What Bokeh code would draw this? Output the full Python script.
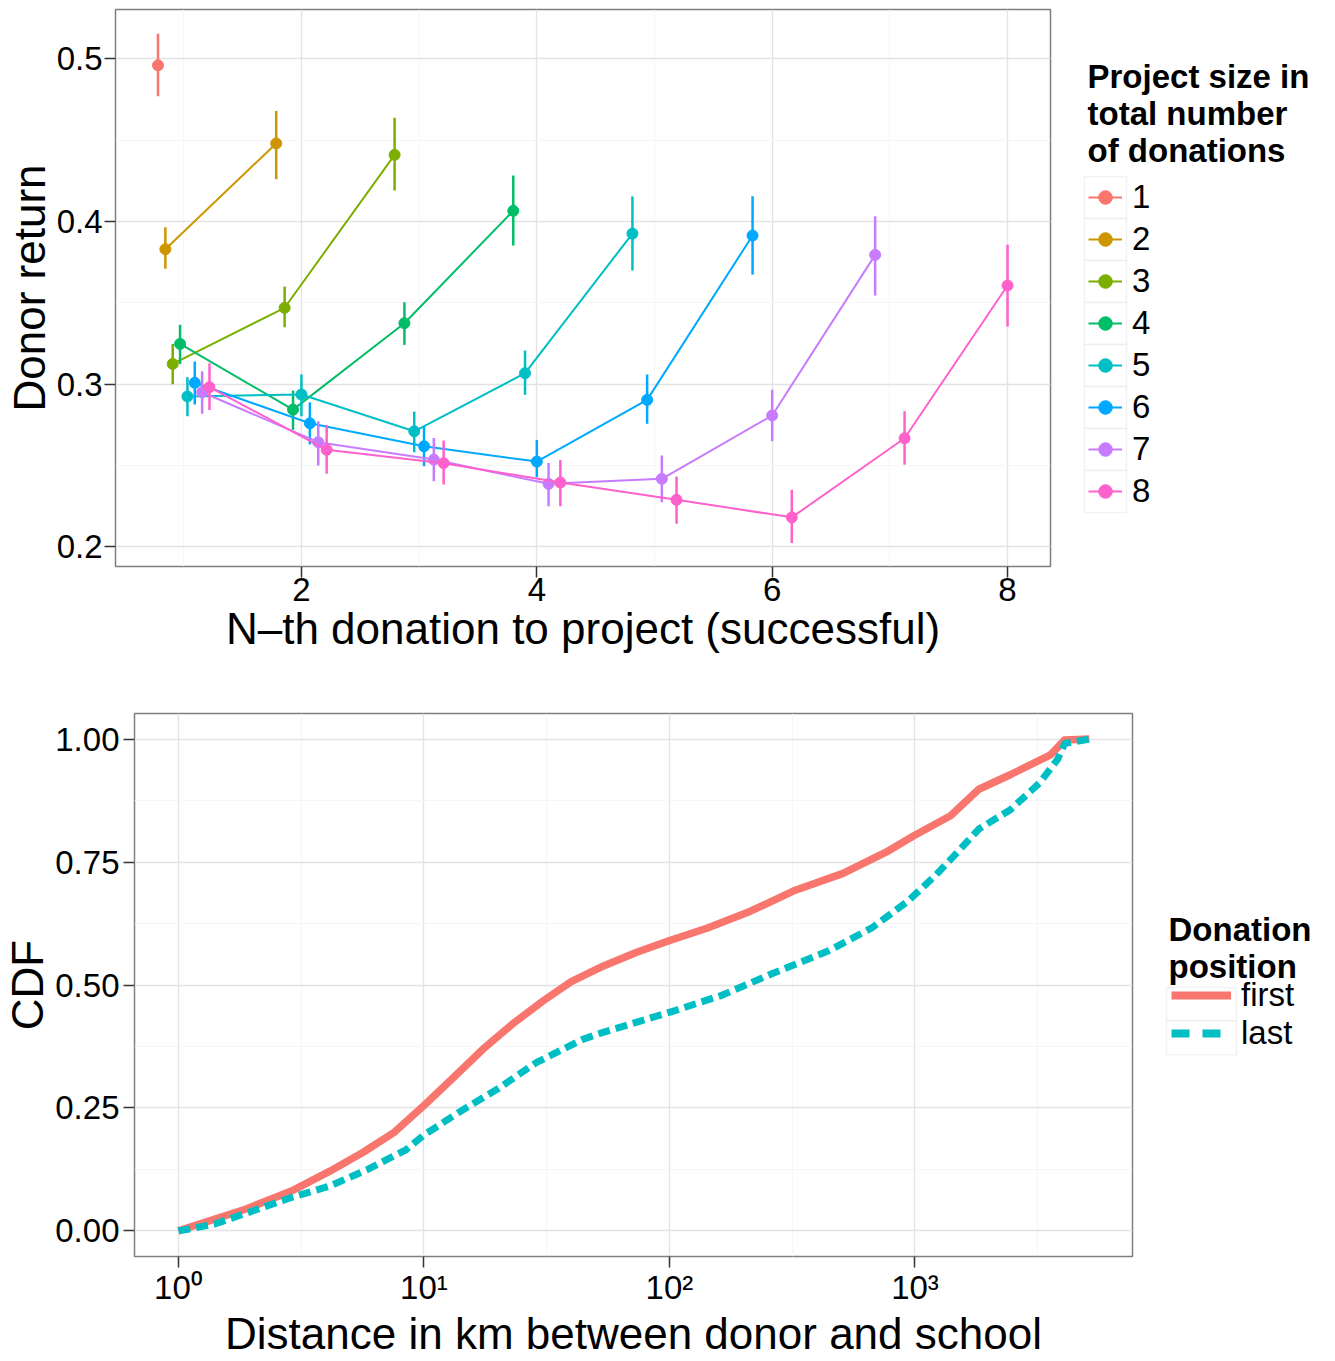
from bokeh.plotting import figure
from bokeh.models import (Range1d, FixedTicker, Legend, LegendItem, Label,
                          NumeralTickFormatter, ColumnDataSource, BoxAnnotation)
from bokeh.layouts import row
from bokeh.embed import file_html
from bokeh.resources import INLINE

FONT = "Liberation Sans"
NAN = float("nan")

# ---------------- top panel data ----------------
project_sizes = [1, 2, 3, 4, 5, 6, 7, 8]
size_colors = ["#F8766D", "#CD9600", "#7CAE00", "#00BE67",
               "#00BFC4", "#00A9FF", "#C77CFF", "#FF61CC"]

ret_1 = [0.496]
ret_2 = [0.383, 0.448]
ret_3 = [0.3125, 0.347, 0.441]
ret_4 = [0.3248, 0.2844, 0.3375, 0.4066]
ret_5 = [0.2925, 0.2937, 0.2711, 0.3068, 0.3926]
ret_6 = [0.3009, 0.2760, 0.2619, 0.2525, 0.2904, 0.3914]
ret_7 = [0.2951, 0.2644, 0.2537, 0.2388, 0.2419, 0.2808, 0.3795]
ret_8 = [0.2982, 0.2597, 0.2515, 0.2396, 0.2290, 0.2182, 0.2668, 0.3607]

lo_1 = [0.477]
lo_2 = [0.371, 0.426]
lo_3 = [0.300, 0.335, 0.419]
lo_4 = [0.3125, 0.272, 0.3242, 0.3852]
lo_5 = [0.2803, 0.2803, 0.2582, 0.2935, 0.3699]
lo_6 = [0.2875, 0.263, 0.2496, 0.2428, 0.2757, 0.3674]
lo_7 = [0.2818, 0.250, 0.2404, 0.225, 0.2275, 0.265, 0.3545]
lo_8 = [0.2842, 0.245, 0.2384, 0.225, 0.2142, 0.2025, 0.2506, 0.3355]

hi_1 = [0.5154]
hi_2 = [0.3965, 0.468]
hi_3 = [0.3248, 0.360, 0.4637]
hi_4 = [0.3365, 0.2961, 0.3504, 0.4283]
hi_5 = [0.3043, 0.306, 0.2832, 0.3207, 0.4154]
hi_6 = [0.314, 0.2889, 0.2742, 0.2658, 0.306, 0.4156]
hi_7 = [0.308, 0.2773, 0.267, 0.2517, 0.2562, 0.2966, 0.4033]
hi_8 = [0.3129, 0.275, 0.2654, 0.2535, 0.2433, 0.2351, 0.2834, 0.3857]

top_x_ticks = [2, 4, 6, 8]
top_x_minor = [1, 3, 5, 7]
top_y_ticks = [0.2, 0.3, 0.4, 0.5]
top_y_minor = [0.25, 0.35, 0.45]
top_legend_title = "Project size in\ntotal number\nof donations"

# ---------------- bottom panel data ----------------
dist_first_km = [1.0, 1.218, 1.875, 2.884, 4.121, 5.702, 7.586, 10.0, 13.0, 17.34,
                 23.12, 30.83, 39.8, 52.36, 73.11, 99.5, 142.9, 213.8, 319.2, 509.3,
                 762.1, 993.0, 1396.0, 1820.0, 2455.0, 3565.0, 4064.0, 5129.0]
cdf_first = [0.0, 0.014, 0.044, 0.081, 0.121, 0.161, 0.201, 0.255, 0.309, 0.369,
             0.422, 0.469, 0.507, 0.536, 0.566, 0.590, 0.616, 0.650, 0.691, 0.727,
             0.770, 0.804, 0.844, 0.898, 0.928, 0.968, 0.998, 1.0]
dist_last_km = [1.0, 1.406, 2.014, 2.884, 4.121, 5.902, 8.453, 10.0, 13.96, 20.0,
                28.64, 44.06, 52.36, 102.3, 163.3, 261.2, 446.7, 666.8, 933.3, 1219.0,
                1489.0, 1820.0, 2455.0, 3221.0, 3802.0, 4074.0, 5129.0]
cdf_last = [0.0, 0.014, 0.041, 0.068, 0.091, 0.125, 0.165, 0.195, 0.242, 0.289,
            0.342, 0.389, 0.402, 0.446, 0.479, 0.523, 0.570, 0.616, 0.670, 0.724,
            0.770, 0.817, 0.857, 0.911, 0.958, 0.991, 1.0]
position_labels = ["first", "last"]
position_colors = ["#F8766D", "#00BFC4"]
bottom_legend_title = "Donation\nposition"

bot_x_ticks = [1, 10, 100, 1000]
bot_x_tick_labels = ["10⁰", "10¹", "10²", "10³"]
bot_y_ticks = [0.0, 0.25, 0.5, 0.75, 1.0]
bot_y_minor = [0.125, 0.375, 0.625, 0.875]

DODGE = 0.5
TICK_FONT = "33px"
TITLE_FONT = "44px"
LEG_FONT = "33px"


def dodge(pos, k):
    present = [s for s in project_sizes if s >= pos]
    n = len(present)
    i = present.index(k)
    return pos + (i - (n - 1) / 2) * DODGE / n


def style(p):
    p.outline_line_color = "#7F7F7F"
    p.outline_line_width = 1.5
    p.background_fill_color = "white"
    p.border_fill_color = "white"
    for ax in p.axis:
        ax.axis_line_color = None
        ax.major_tick_line_color = "#333333"
        ax.major_tick_line_width = 1.5
        ax.major_tick_out = 11
        ax.major_tick_in = 0
        ax.minor_tick_line_color = None
        ax.major_label_text_font = FONT
        ax.major_label_text_font_size = TICK_FONT
        ax.major_label_text_color = "black"
        ax.axis_label_text_font = FONT
        ax.axis_label_text_font_size = TITLE_FONT
        ax.axis_label_text_font_style = "normal"
        ax.axis_label_text_color = "black"
        ax.axis_label_standoff = 0
    p.grid.grid_line_color = "#E3E3E3"
    p.grid.grid_line_width = 1.3
    p.grid.minor_grid_line_color = "#F6F6F6"
    p.grid.minor_grid_line_width = 1.0


def legend_panel(w, h, top, bottom):
    fh = h - top - bottom   # frame height, aligned with the neighbouring plot
    lp = figure(width=w, height=h, x_range=Range1d(0, w), y_range=Range1d(0, fh),
                output_backend="svg", toolbar_location=None,
                x_axis_location=None, y_axis_location=None,
                min_border=0, min_border_left=0, min_border_right=0,
                min_border_top=top, min_border_bottom=bottom)
    lp.grid.visible = False
    lp.outline_line_color = None
    lp.background_fill_color = "white"
    lp.border_fill_color = "white"
    return lp


# ---------------- top figure ----------------
TOP_H, TOP_BT, TOP_BB = 663, 9, 97
p1 = figure(width=1052, height=TOP_H, x_range=Range1d(0.42, 8.365),
            y_range=Range1d(0.188, 0.5303), output_backend="svg",
            toolbar_location=None, min_border_left=115, min_border_right=2,
            min_border_top=TOP_BT, min_border_bottom=TOP_BB)
p1.xaxis.ticker = FixedTicker(ticks=top_x_ticks, minor_ticks=top_x_minor)
p1.yaxis.ticker = FixedTicker(ticks=top_y_ticks, minor_ticks=top_y_minor)
p1.yaxis.formatter = NumeralTickFormatter(format="0.0")
p1.xaxis.axis_label = "N\u2013th donation to project (successful)"
p1.yaxis.axis_label = "Donor return"
style(p1)
p1.xaxis.major_label_standoff = 0
p1.yaxis.major_label_standoff = 2

rets = [ret_1, ret_2, ret_3, ret_4, ret_5, ret_6, ret_7, ret_8]
los = [lo_1, lo_2, lo_3, lo_4, lo_5, lo_6, lo_7, lo_8]
his = [hi_1, hi_2, hi_3, hi_4, hi_5, hi_6, hi_7, hi_8]

for k, c, r, lo, hi in zip(project_sizes, size_colors, rets, los, his):
    xs = [dodge(pos, k) for pos in range(1, len(r) + 1)]
    src = ColumnDataSource(dict(x=xs, y=r, lo=lo, hi=hi))
    p1.line("x", "y", source=src, line_color=c, line_width=2)
    p1.segment("x", "lo", "x", "hi", source=src, line_color=c, line_width=2.5)
    p1.scatter("x", "y", source=src, fill_color=c, line_color=c, size=11)

# legend panel (top); units are pixels from the frame's bottom-left
l1 = legend_panel(278, TOP_H, TOP_BT, TOP_BB)
KEY1 = 42
leg1_bottom = 54
for i in range(len(project_sizes)):
    b = leg1_bottom + (len(project_sizes) - 1 - i) * KEY1
    l1.add_layout(BoxAnnotation(left=32, right=32 + KEY1, bottom=b, top=b + KEY1,
                                fill_color="white", fill_alpha=1.0,
                                line_color="#D4D4D4", line_width=1.5))
items1 = []
for k, c in zip(project_sizes, size_colors):
    lr = l1.line(x=[NAN], y=[NAN], line_color=c, line_width=2)
    sr = l1.scatter(x=[NAN], y=[NAN], fill_color=c, line_color=c, size=11)
    items1.append(LegendItem(label=str(k), renderers=[lr, sr]))
leg1 = Legend(items=items1, location=(36, leg1_bottom), glyph_width=34,
              glyph_height=KEY1, label_height=KEY1, spacing=0, padding=0, margin=0,
              label_standoff=10, label_text_font=FONT, label_text_font_size=LEG_FONT,
              label_text_color="black", border_line_color=None,
              background_fill_alpha=0)
l1.add_layout(leg1)
l1.add_layout(Label(x=35, y=509, x_units="screen", y_units="screen",
                    text=top_legend_title,
                    text_font=FONT, text_font_size=LEG_FONT, text_font_style="bold",
                    text_baseline="top", text_align="left", text_line_height=1.0,
                    text_color="black"))

# ---------------- bottom figure ----------------
BOT_H, BOT_BT, BOT_BB = 697, 50, 98
p2 = figure(width=1134, height=BOT_H, x_axis_type="log",
            x_range=Range1d(10 ** -0.179, 10 ** 3.886), y_range=Range1d(-0.052, 1.052),
            output_backend="svg", toolbar_location=None,
            min_border_left=134, min_border_right=2, min_border_top=BOT_BT,
            min_border_bottom=BOT_BB)
p2.xaxis.ticker = FixedTicker(ticks=bot_x_ticks,
                              minor_ticks=[10 ** (k + 0.5) for k in range(4)])
p2.yaxis.ticker = FixedTicker(ticks=bot_y_ticks, minor_ticks=bot_y_minor)
p2.yaxis.formatter = NumeralTickFormatter(format="0.00")
overrides = {}
for t, lab in zip(bot_x_ticks, bot_x_tick_labels):
    overrides[t] = lab
    overrides[str(t)] = lab
p2.xaxis.major_label_overrides = overrides
p2.xaxis.axis_label = "Distance in km between donor and school"
p2.yaxis.axis_label = "CDF"
style(p2)
p2.xaxis.major_label_standoff = 1
p2.yaxis.major_label_standoff = 4

p2.line(dist_first_km, cdf_first, line_color=position_colors[0],
        line_width=7.5, line_join="round")
p2.line(dist_last_km, cdf_last, line_color=position_colors[1],
        line_width=7, line_dash="12 6", line_join="round")

# legend panel (bottom)
l2 = legend_panel(196, BOT_H, BOT_BT, BOT_BB)
KEY2 = 34
leg2_bottom = 204
for i in range(len(position_labels)):
    b = leg2_bottom + (len(position_labels) - 1 - i) * KEY2
    l2.add_layout(BoxAnnotation(left=32, right=102, bottom=b, top=b + KEY2,
                                fill_color="white", fill_alpha=1.0,
                                line_color="#D4D4D4", line_width=1.5))
lf = l2.line(x=[NAN], y=[NAN], line_color=position_colors[0], line_width=8)
ll = l2.line(x=[NAN], y=[NAN], line_color=position_colors[1], line_width=8,
             line_dash="18 13")
leg2 = Legend(items=[LegendItem(label=position_labels[0], renderers=[lf]),
                     LegendItem(label=position_labels[1], renderers=[ll])],
              location=(37, leg2_bottom), glyph_width=60, glyph_height=KEY2,
              label_height=KEY2, spacing=0, padding=0, margin=0, label_standoff=10,
              label_text_font=FONT, label_text_font_size=LEG_FONT,
              label_text_color="black", border_line_color=None,
              background_fill_alpha=0)
l2.add_layout(leg2)
l2.add_layout(Label(x=34, y=346, x_units="screen", y_units="screen",
                    text=bottom_legend_title,
                    text_font=FONT, text_font_size=LEG_FONT, text_font_style="bold",
                    text_baseline="top", text_align="left", text_line_height=1.0,
                    text_color="black"))

open("out.html", "w").write(file_html([row(p1, l1), row(p2, l2)], INLINE))
